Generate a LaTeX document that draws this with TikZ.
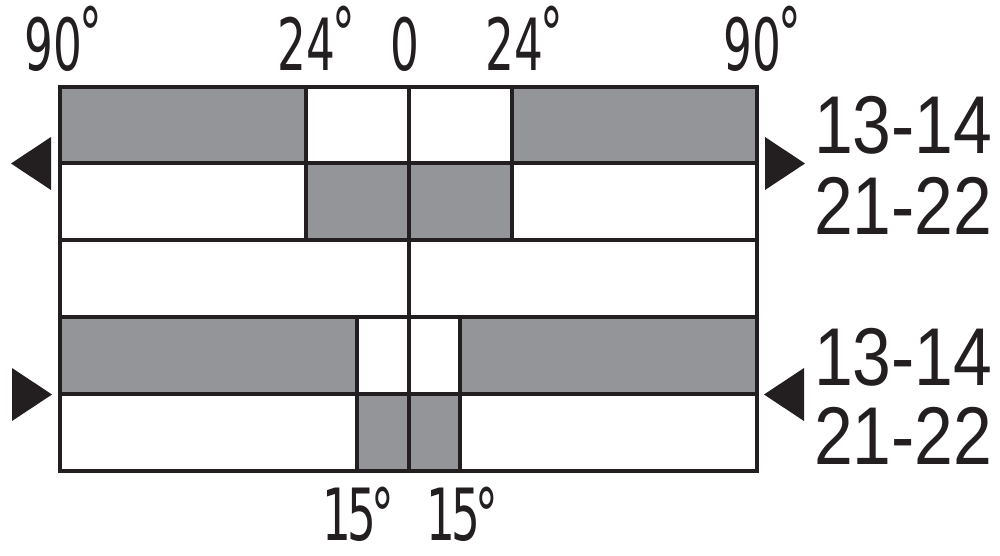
\documentclass[tikz,border=0pt]{standalone}
\usepackage{fontspec}
\newfontfamily\dinfont[FakeStretch=0.63]{DejaVu Sans}
\newfontfamily\helvc[FakeStretch=0.85]{Liberation Sans}
\definecolor{cellgray}{RGB}{148,149,153}
\definecolor{ink}{RGB}{35,31,32}
\begin{document}
\begin{tikzpicture}[x=1pt,y=-1pt,
  grid/.style={draw=ink,line width=3.3pt},
  toplab/.style={inner sep=0pt,anchor=base,font=\dinfont\fontsize{72}{72}\selectfont,text=ink},
  sidelab/.style={inner sep=0pt,anchor=base west,font=\helvc\fontsize{82}{82}\selectfont,text=ink},
  tri/.style={fill=ink}]
\useasboundingbox (0,0) rectangle (1000,555);
% gray cells
\fill[cellgray] (60,87) rectangle (306,163);
\fill[cellgray] (512,87) rectangle (757,163);
\fill[cellgray] (306,163) rectangle (512,240);
\fill[cellgray] (60,317) rectangle (357,394);
\fill[cellgray] (460,317) rectangle (757,394);
\fill[cellgray] (357,394) rectangle (460,471);
% grid lines
\draw[grid] (60,87) rectangle (757,471);
\foreach \y in {163,240,317,394} \draw[grid] (60,\y) -- (757,\y);
\draw[grid] (409,87) -- (409,471);
\draw[grid] (306,87) -- (306,240);
\draw[grid] (512,87) -- (512,240);
\draw[grid] (357,317) -- (357,471);
\draw[grid] (460,317) -- (460,471);
% triangles
\fill[tri] (51,137) -- (51,190) -- (11,163.5) -- cycle;
\fill[tri] (765,137) -- (765,190) -- (805,163.5) -- cycle;
\fill[tri] (12,368) -- (12,421) -- (52,394.5) -- cycle;
\fill[tri] (804,368) -- (804,421) -- (764,394.5) -- cycle;
% top labels
\node[toplab] (l90) at (63,70) {90\kern-3pt\raisebox{11pt}{°}};
\node[toplab] (l24) at (316,70) {24\kern-3pt\raisebox{11pt}{°}};
\node[toplab] (l0) at (405,70) {0};
\node[toplab] (r24) at (524,70) {24\kern-3pt\raisebox{11pt}{°}};
\node[toplab] (r90) at (762,70) {90\kern-3pt\raisebox{11pt}{°}};
% bottom labels
\node[toplab] (b15a) at (358,540) {1\kern-4pt5\kern-5pt°};
\node[toplab] (b15b) at (462,540) {1\kern-4pt5\kern-5pt°};
% side labels
\node[sidelab] (s1) at (814,153) {13-14};
\node[sidelab] (s2) at (814,234) {21-22};
\node[sidelab] (s3) at (814,385) {13-14};
\node[sidelab] (s4) at (814,464) {21-22};
\end{tikzpicture}
\end{document}
